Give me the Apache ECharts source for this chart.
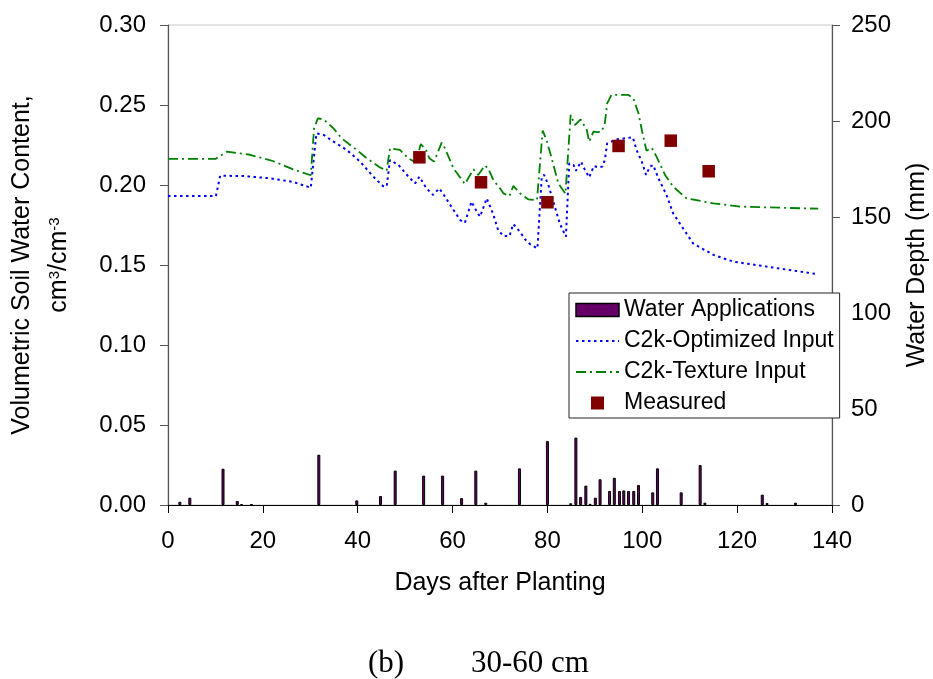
<!DOCTYPE html>
<html>
<head>
<meta charset="utf-8">
<script src="https://cdn.jsdelivr.net/npm/echarts@6/dist/echarts.min.js"></script>
<style>
  html, body { margin: 0; padding: 0; background: #ffffff; }
  #chart { width: 933px; height: 679px; }
</style>
</head>
<body>
<div id="chart"></div>
<script>
// Soil water content at 30-60 cm depth: simulated (two inputs), measured, and water applications

// C2k-Optimized Input simulation (days after planting, cm3/cm3)
const optimizedDays = [0, 10.1, 11, 15.9, 21.5, 26.4, 30.1, 31.3, 32.8, 34.9, 37.7, 40.5, 43.3, 45.3, 46.1, 46.8,
  48.6, 50.7, 52.1, 53.0, 54.5, 55.9, 57.2, 58.4, 60.2, 61.6, 62.6, 64.0, 65.1, 65.8, 67.2, 68.6, 69.6, 70.7,
  72.0, 72.8, 74.2, 75.3, 76.3, 77.9, 78.8, 79.3, 80.2, 81.6, 82.6, 83.9, 84.6, 85.5, 86.0, 87.1, 87.9, 88.8,
  89.8, 90.7, 91.6, 92.1, 92.6, 94.6, 96.4, 98.0, 98.8, 99.9, 100.8, 101.6, 102.3, 103.4, 105.1, 106.5, 108.6,
  110.7, 115.0, 119.2, 126.2, 136.7];
const optimizedVwc = [0.1931, 0.1931, 0.2058, 0.2056, 0.2042, 0.2019, 0.1983, 0.2323, 0.2313, 0.2271, 0.2219,
  0.2146, 0.2052, 0.1994, 0.1990, 0.2156, 0.2125, 0.2052, 0.2010, 0.2052, 0.1979, 0.1938, 0.1979, 0.1927,
  0.1844, 0.1781, 0.1764, 0.1896, 0.1833, 0.1802, 0.1917, 0.1815, 0.1719, 0.1681, 0.1681, 0.1756, 0.1708,
  0.1660, 0.1631, 0.1604, 0.2052, 0.2063, 0.2000, 0.1860, 0.1760, 0.1677, 0.2135, 0.2125, 0.2089, 0.2146,
  0.2094, 0.2048, 0.2119, 0.2110, 0.2115, 0.2156, 0.2260, 0.2285, 0.2292, 0.2298, 0.2219, 0.2146, 0.2063,
  0.2115, 0.2125, 0.2042, 0.1938, 0.1823, 0.1729, 0.1635, 0.1563, 0.1521, 0.1490, 0.1444];

// C2k-Texture Input simulation
const textureDays = [0, 10, 12.4, 17.3, 22.1, 26.4, 30.1, 30.8, 31.6, 32.8, 34.9, 36.6, 39.8, 41.9, 44.7, 46.1,
  46.8, 48.9, 50.7, 52.2, 53.3, 54.4, 55.1, 56.1, 57.7, 58.4, 60.2, 62.6, 64.4, 65.4, 66.8, 67.5, 68.6, 70.0,
  70.7, 72.0, 72.8, 74.2, 76.0, 77.8, 79.0, 79.8, 80.9, 82.3, 83.8, 84.9, 85.8, 87.0, 88.3, 88.8, 89.7, 90.6,
  91.4, 92.1, 92.6, 93.5, 97.1, 98.1, 99.2, 99.9, 100.6, 100.9, 102.0, 103.0, 104.8, 106.5, 109.3, 115.0,
  120.6, 129.0, 137.1];
const textureVwc = [0.2163, 0.2163, 0.2208, 0.2189, 0.2150, 0.2098, 0.2061, 0.2354, 0.2417, 0.2410, 0.2354,
  0.2292, 0.2219, 0.2167, 0.2110, 0.2089, 0.2229, 0.2219, 0.2167, 0.2140, 0.2256, 0.2219, 0.2167, 0.2146,
  0.2265, 0.2229, 0.2104, 0.2006, 0.2098, 0.2063, 0.2122, 0.2104, 0.2031, 0.1979, 0.1948, 0.1931, 0.1994,
  0.1948, 0.1910, 0.1906, 0.2340, 0.2281, 0.2167, 0.2010, 0.1945, 0.2438, 0.2375, 0.2410, 0.2344, 0.2271,
  0.2333, 0.2330, 0.2333, 0.2385, 0.2510, 0.2563, 0.2563, 0.2542, 0.2448, 0.2344, 0.2250, 0.2214, 0.2233,
  0.2177, 0.2063, 0.1990, 0.1917, 0.1885, 0.1865, 0.1858, 0.1852];

// Measured soil water content
const measuredDays = [53, 66, 80, 95, 106, 114];
const measuredVwc = [0.2173, 0.2017, 0.1892, 0.2244, 0.2277, 0.2086];

// Water applications (mm)
const irrigationDays = [2.5, 4.6, 11.6, 14.6, 15.5, 17.6, 31.8, 39.8, 44.8, 47.9, 53.9, 57.9, 61.9, 64.9, 67.0,
  74.1, 80.0, 84.9, 86.0, 87.0, 88.1, 89.0, 90.1, 91.1, 93.1, 94.1, 95.2, 96.1, 97.1, 98.2, 99.2, 102.2, 103.2,
  108.2, 112.2, 113.2, 125.3, 126.3, 132.3];
const irrigationMm = [1.7, 3.8, 18.9, 2.1, 0.5, 0.4, 26.2, 2.4, 4.7, 17.9, 15.3, 15.3, 3.6, 17.9, 1.2,
  19.1, 33.3, 0.9, 35.1, 4.2, 10.1, 0.6, 3.8, 13.4, 7.3, 14.2, 7.3, 7.6, 7.3, 7.3, 10.4, 6.6, 19.1,
  6.6, 20.8, 1.2, 5.4, 1.0, 1.2];

const zip = (xs, ys) => xs.map((x, i) => [x, ys[i]]);

const SANS = 'Liberation Sans, Arial, sans-serif';
const SERIF = 'Liberation Serif, Times New Roman, serif';
const AXIS_GREY = '#555555';
const SQUARE = 'path://M0,0L10,0L10,10L0,10Z';

const chart = echarts.init(document.getElementById('chart'), null, { renderer: 'canvas' });

chart.setOption({
  animation: false,
  backgroundColor: '#ffffff',
  grid: {
    left: 168, right: 101, top: 25, bottom: 174,
    outerBoundsMode: 'none', containLabel: false,
    show: true, borderColor: '#c8c8c8', borderWidth: 1, backgroundColor: 'transparent'
  },
  legend: {
    orient: 'vertical',
    left: 569, top: 293,
    padding: [5, 6, 3, 6],
    itemWidth: 43, itemHeight: 13, itemGap: 7,
    symbolKeepAspect: true,
    backgroundColor: '#ffffff',
    borderColor: '#222222', borderWidth: 1,
    textStyle: { fontFamily: SANS, fontSize: 23, color: '#000', lineHeight: 24 },
    data: [
      { name: 'Water Applications', icon: 'rect', itemStyle: { color: '#660066', borderColor: '#000', borderWidth: 1.5 } },
      { name: 'C2k-Optimized Input', itemStyle: { color: 'rgba(0,0,0,0)', borderWidth: 0, opacity: 0 } },
      { name: 'C2k-Texture Input', itemStyle: { color: 'rgba(0,0,0,0)', borderWidth: 0, opacity: 0 } },
      { name: 'Measured', icon: SQUARE, itemStyle: { color: '#800000' } }
    ]
  },
  xAxis: {
    type: 'value', min: 0, max: 140, interval: 20,
    name: 'Days after Planting', nameLocation: 'middle', nameGap: 66,
    nameTextStyle: { fontFamily: SANS, fontSize: 25, color: '#000' },
    axisLine: { lineStyle: { color: '#000', width: 1 } },
    axisTick: { show: true, inside: false, length: 8, lineStyle: { color: '#000' } },
    axisLabel: { fontFamily: SANS, fontSize: 24, color: '#000', margin: 24 },
    splitLine: { show: false }
  },
  yAxis: [
    {
      type: 'value', min: 0, max: 0.30, interval: 0.05, position: 'left',
      name: 'Volumetric Soil Water Content,\n{b|cm}{s|3}{b|/cm}{s|-3}',
      nameLocation: 'middle', nameGap: 90,
      nameTextStyle: {
        fontFamily: SANS, fontSize: 25, color: '#000', lineHeight: 37,
        rich: {
          b: { fontFamily: SANS, fontSize: 25, color: '#000', lineHeight: 37 },
          s: { fontFamily: SANS, fontSize: 15, color: '#000', lineHeight: 15, verticalAlign: 'top', padding: [6, 0, 0, 0] }
        }
      },
      axisLine: { show: true, lineStyle: { color: AXIS_GREY, width: 1.2 } },
      axisTick: { show: true, inside: false, length: 8, lineStyle: { color: AXIS_GREY } },
      axisLabel: { fontFamily: SANS, fontSize: 24, color: '#000', margin: 22, formatter: v => v.toFixed(2) },
      splitLine: { show: false }
    },
    {
      type: 'value', min: 0, max: 250, interval: 50, position: 'right',
      name: 'Water Depth (mm)', nameLocation: 'middle', nameGap: 73, nameRotate: 90,
      nameTextStyle: { fontFamily: SANS, fontSize: 25, color: '#000' },
      axisLine: { show: true, lineStyle: { color: AXIS_GREY, width: 1.2 } },
      axisTick: { show: true, inside: false, length: 8, lineStyle: { color: AXIS_GREY } },
      axisLabel: { fontFamily: SANS, fontSize: 24, color: '#000', margin: 19 },
      splitLine: { show: false }
    }
  ],
  series: [
    {
      name: 'Water Applications', type: 'bar', yAxisIndex: 1,
      barWidth: 3,
      itemStyle: { color: '#660066', borderColor: '#000', borderWidth: 1 },
      data: zip(irrigationDays, irrigationMm),
      z: 2
    },
    {
      name: 'C2k-Optimized Input', type: 'line', yAxisIndex: 0,
      showSymbol: false, symbol: 'none',
      lineStyle: { color: '#0000ff', width: 2, type: [2.5, 3.5] },
      itemStyle: { color: '#0000ff' },
      data: zip(optimizedDays, optimizedVwc),
      z: 3
    },
    {
      name: 'C2k-Texture Input', type: 'line', yAxisIndex: 0,
      showSymbol: false, symbol: 'none',
      lineStyle: { color: '#008000', width: 1.8, type: [10, 4, 2, 4] },
      itemStyle: { color: '#008000' },
      data: zip(textureDays, textureVwc),
      z: 3
    },
    {
      name: 'Measured', type: 'scatter', yAxisIndex: 0,
      symbol: 'rect', symbolSize: 12.5,
      itemStyle: { color: '#800000', opacity: 1 },
      data: zip(measuredDays, measuredVwc),
      z: 4
    }
  ],
  graphic: [
    { type: 'text', left: 368, top: 648, style: { text: '(b)', font: '31px ' + SERIF, fill: '#000' } },
    { type: 'text', left: 471, top: 648, style: { text: '30-60 cm', font: '31px ' + SERIF, fill: '#000' } }
  ]
});
</script>
</body>
</html>
